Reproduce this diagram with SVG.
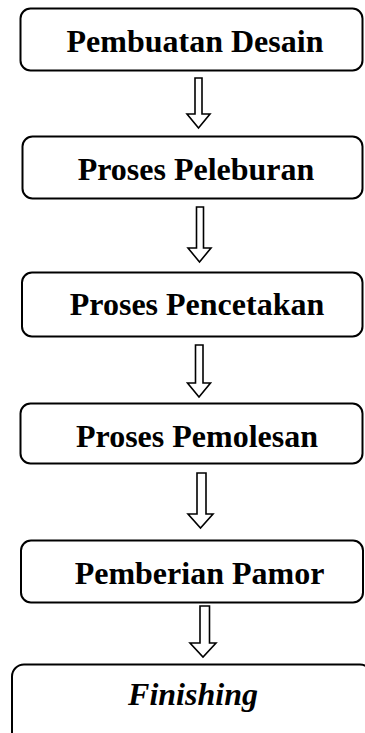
<svg xmlns="http://www.w3.org/2000/svg" width="365" height="733" viewBox="0 0 365 733">
<style>
.box{fill:#fff;stroke:#000;stroke-width:2}
.lbl{font-family:"Liberation Serif","Times New Roman",serif;font-weight:bold;font-size:32px;fill:#000;text-anchor:middle}
.it{font-style:italic}
.arr{fill:#fff;stroke:#000;stroke-width:1.6;stroke-linejoin:miter}
</style>
<rect width="365" height="733" fill="#fff"/>
<g id="n1"><rect class="box" x="20.5" y="8.5" width="342" height="62" rx="10"/><text class="lbl" x="195" y="52">Pembuatan Desain</text></g>
<g id="n2"><rect class="box" x="22.5" y="136.5" width="340" height="62" rx="10"/><text class="lbl" x="196" y="180">Proses Peleburan</text></g>
<g id="n3"><rect class="box" x="22" y="272.5" width="340.5" height="64" rx="10"/><text class="lbl" x="197" y="315">Proses Pencetakan</text></g>
<g id="n4"><rect class="box" x="20.5" y="403.5" width="342" height="60" rx="10"/><text class="lbl" x="197" y="447">Proses Pemolesan</text></g>
<g id="n5"><rect class="box" x="21" y="540.5" width="342" height="62" rx="10"/><text class="lbl" x="199.5" y="584">Pemberian Pamor</text></g>
<g id="n6"><rect class="box" x="12" y="664.5" width="360" height="90" rx="12"/><text class="lbl it" x="193" y="705">Finishing</text></g>
<g id="connectors">
<path class="arr" d="M195 78 H202 V114 H210 L198.5 128 L187 114 H195 Z"/>
<path class="arr" d="M196.5 207 H203.5 V248 H211 L199.5 262 L188 248 H196.5 Z"/>
<path class="arr" d="M195.5 345 H203 V383 H210.5 L199 397 L187.5 383 H195.5 Z"/>
<path class="arr" d="M197 473 H206 V514 H213 L200.5 528 L188 514 H197 Z"/>
<path class="arr" d="M200 606 H209.5 V643 H216 L203 657 L190 643 H200 Z"/>
</g>
</svg>
